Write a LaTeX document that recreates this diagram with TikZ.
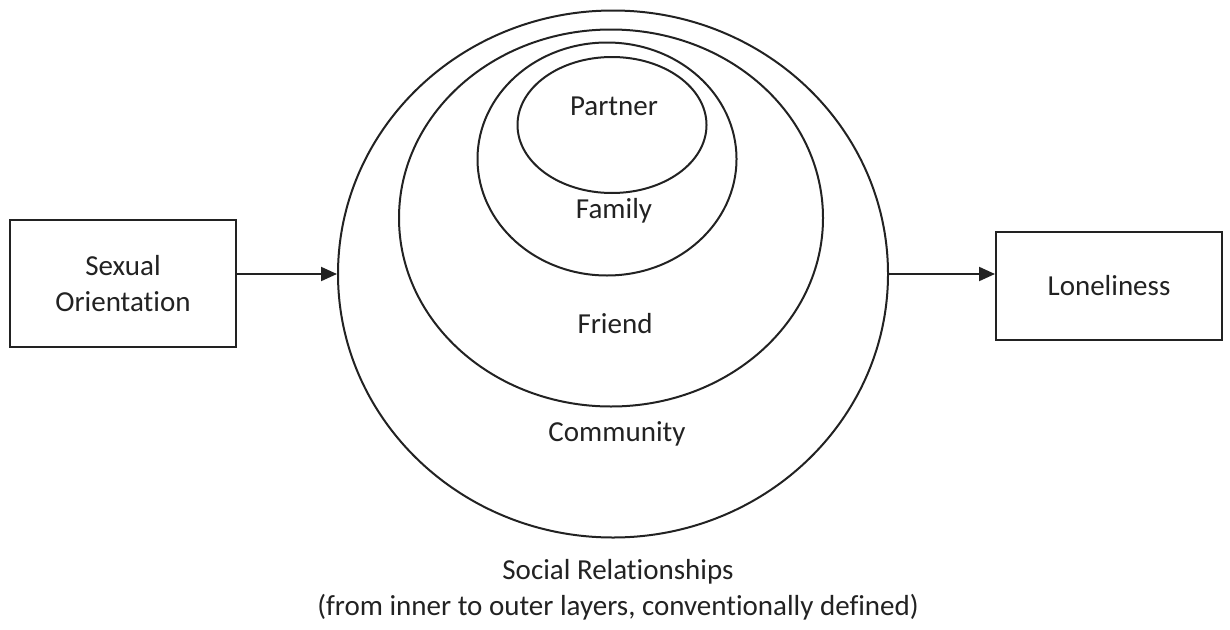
\documentclass[tikz,border=0pt]{standalone}
\usepackage{fontspec}
\setmainfont{Carlito}[Ligatures={NoCommon}]
\usetikzlibrary{shapes.geometric,arrows.meta}
\definecolor{ink}{HTML}{222222}
\begin{document}
\begin{tikzpicture}[x=1pt,y=-1pt,
  every node/.style={font=\fontsize{29}{36}\selectfont, text=ink},
  layer/.style={draw=ink, ellipse, line width=2pt, inner sep=0pt},
  varbox/.style={draw=ink, rectangle, line width=2pt, inner sep=0pt, align=center},
  link/.style={draw=ink, line width=2pt, -{Triangle[length=16pt,width=14pt]}}]
\useasboundingbox (0,0) rectangle (1230,629);
% nested layers of social relationships
\node[layer, minimum width=550pt, minimum height=527pt] (community) at (613,274) {};
\node[layer, minimum width=424pt, minimum height=377pt] (friend) at (611,218) {};
\node[layer, minimum width=259pt, minimum height=233pt] (family) at (607,159) {};
\node[layer, minimum width=189pt, minimum height=136pt] (partner) at (612,125) {};
% layer labels
\node (tpartner) at (614,106) {Partner};
\node (tfamily) at (614,211) {Family};
\node (tfriend) at (615,324) {Friend};
\node (tcommunity) at (617,434) {Community};
% variables
\node[varbox, minimum width=226pt, minimum height=127pt] (so) at (123,283.5) {Sexual\\Orientation};
\node[varbox, minimum width=226pt, minimum height=108pt] (lon) at (1109,286) {Loneliness};
% caption
\node[align=center] (cap) at (618,590) {Social Relationships\\(from inner to outer layers, conventionally defined)};
% paths
\draw[link] (community.west -| so.east) -- (community.west);
\draw[link] (community.east) -- (community.east -| lon.west);
\end{tikzpicture}
\end{document}
